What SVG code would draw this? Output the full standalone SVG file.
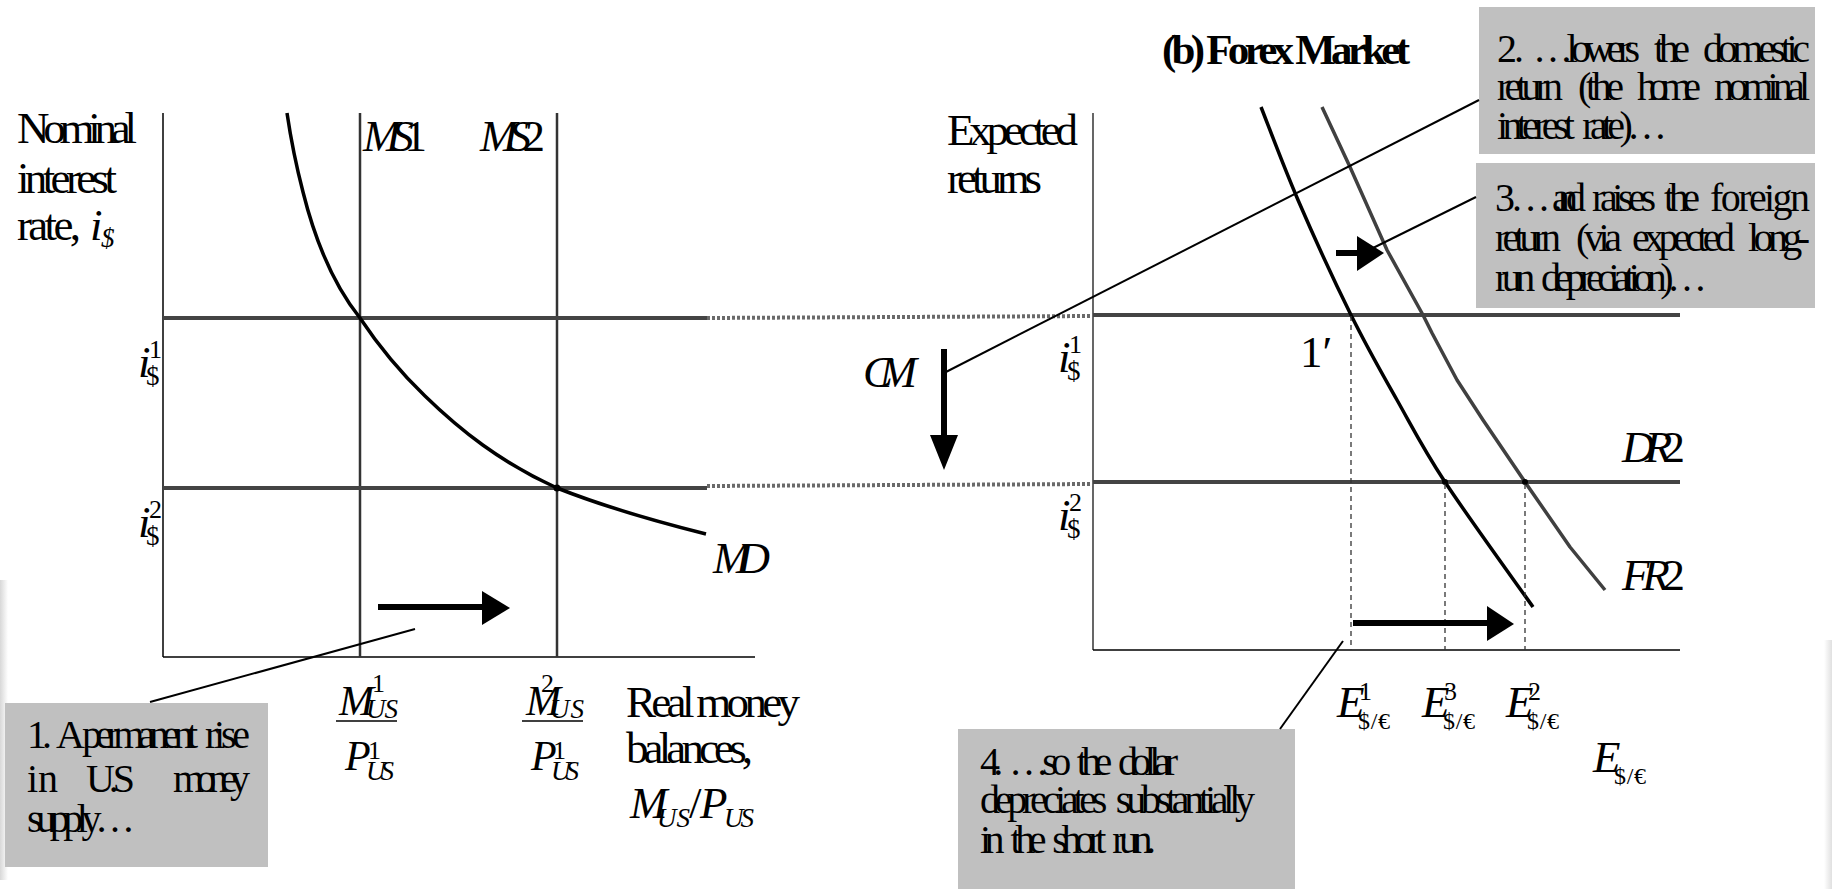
<svg xmlns="http://www.w3.org/2000/svg" width="1832" height="889" viewBox="0 0 1832 889">
<defs>
<style>
.t{font-family:"Liberation Serif","Times New Roman",serif;fill:#000}
.it{font-style:italic}
.L{font-size:45px}
.B{font-size:40px}
.ws{word-spacing:9px}
.sb{font-size:27px}
.sp{font-size:26px}
.ax{stroke:#000;stroke-width:1.5;fill:none}
.h{stroke:#444;stroke-width:4;fill:none}
.v{stroke:#333;stroke-width:2.5;fill:none}
.dot{stroke:#6a6a6a;stroke-width:4;stroke-dasharray:3 2;fill:none}
.dash{stroke:#333;stroke-width:1.3;stroke-dasharray:5 4;fill:none}
.co{stroke:#000;stroke-width:2;fill:none}
.shaft{stroke:#000;stroke-width:6;fill:none}
.head{fill:#000}
.box{fill:#c0c0c0}
</style>
<linearGradient id="edgeL" x1="0" y1="0" x2="1" y2="0"><stop offset="0" stop-color="#d8d8d8"/><stop offset="1" stop-color="#fff"/></linearGradient>
<linearGradient id="edgeR" x1="1" y1="0" x2="0" y2="0"><stop offset="0" stop-color="#e0e0e0"/><stop offset="1" stop-color="#fff"/></linearGradient>
</defs>
<rect width="1832" height="889" fill="#fff"/>
<rect x="0" y="580" width="8" height="300" fill="url(#edgeL)"/>
<rect x="1824" y="640" width="8" height="249" fill="url(#edgeR)"/>

<!-- Left panel: money market -->
<g id="money-axes">
<line class="ax" x1="163" y1="113" x2="163" y2="657"/>
<line class="ax" x1="163" y1="657" x2="755" y2="657"/>
</g>
<g id="ms-lines">
<line class="v" x1="360" y1="113" x2="360" y2="657"/>
<line class="v" x1="557" y1="113" x2="557" y2="657"/>
<text class="t it L" x="363" y="151" textLength="64" lengthAdjust="spacing">MS<tspan font-style="normal">1</tspan></text>
<text class="t it L" x="480" y="151" textLength="65" lengthAdjust="spacing">MS<tspan font-style="normal">2</tspan></text>
</g>
<g id="left-rates">
<line class="h" x1="163" y1="318" x2="707" y2="318"/>
<line class="h" x1="163" y1="488" x2="707" y2="488"/>
</g>
<g id="md-curve">
<path d="M287,113 C291,140 296,165 303,192 C315,240 332,283 360,318 C380,348 400,372 425,396 C460,430 500,462 557,488 C600,505 650,520 706,534" fill="none" stroke="#000" stroke-width="3.5"/>
<circle cx="557" cy="488" r="3.5" fill="#000"/>
<text class="t it L" x="713" y="573" textLength="57" lengthAdjust="spacing">MD</text>
</g>
<g id="left-axis-labels">
<text class="t L" x="17" y="143" textLength="120" lengthAdjust="spacing">Nominal</text>
<text class="t L" x="17" y="193" textLength="100" lengthAdjust="spacing">interest</text>
<text class="t L" x="17" y="240" textLength="64" lengthAdjust="spacing">rate,</text>
<text class="t it L" x="90" y="240">i</text>
<text class="t it sb" x="101" y="247">$</text>
<text class="t it L" x="138" y="377">i</text>
<text class="t sb" x="146" y="385">$</text>
<text class="t sp" x="149" y="358">1</text>
<text class="t it L" x="138" y="537">i</text>
<text class="t sb" x="146" y="545">$</text>
<text class="t sp" x="149" y="518">2</text>
<text class="t it" font-size="42" x="339" y="715">M</text>
<text class="t sp" x="372" y="692">1</text>
<text class="t it sb" x="366" y="718" textLength="32" lengthAdjust="spacing">US</text>
<line x1="336" y1="721" x2="397" y2="721" stroke="#000" stroke-width="1.5"/>
<text class="t it" font-size="42" x="345" y="770">P</text>
<text class="t sp" x="368" y="759">1</text>
<text class="t it sb" x="366" y="780" textLength="28" lengthAdjust="spacing">US</text>
<text class="t it" font-size="42" x="526" y="715">M</text>
<text class="t sp" x="541" y="692">2</text>
<text class="t it sb" x="550" y="718" textLength="34" lengthAdjust="spacing">US</text>
<line x1="522" y1="721" x2="583" y2="721" stroke="#000" stroke-width="1.5"/>
<text class="t it" font-size="42" x="531" y="770">P</text>
<text class="t sp" x="553" y="759">1</text>
<text class="t it sb" x="551" y="780" textLength="28" lengthAdjust="spacing">US</text>
<text class="t L" x="626" y="717" textLength="174" lengthAdjust="spacing">Real money</text>
<text class="t L" x="626" y="763" textLength="127" lengthAdjust="spacing">balances,</text>
<text class="t it L" x="630" y="818">M</text>
<text class="t it sb" x="657" y="827" textLength="33" lengthAdjust="spacing">US</text>
<text class="t L" x="689" y="818">/</text>
<text class="t it L" x="700" y="818">P</text>
<text class="t it sb" x="724" y="827" textLength="30" lengthAdjust="spacing">US</text>
</g>
<g id="box1">
<rect class="box" x="5" y="703" width="263" height="164"/>
<text class="t B" x="27" y="748" textLength="25" lengthAdjust="spacing">1.</text>
<text class="t B" x="56" y="748">A</text>
<text class="t B" x="82" y="748" textLength="116" lengthAdjust="spacing">permanent</text>
<text class="t B" x="205" y="748" textLength="45" lengthAdjust="spacing">rise</text>
<text class="t B" x="27" y="792">in</text>
<text class="t B" x="86" y="792" textLength="49" lengthAdjust="spacing">U.S</text>
<text class="t B" x="173" y="792" textLength="77" lengthAdjust="spacing">money</text>
<text class="t B" x="27" y="832" textLength="108" lengthAdjust="spacing">supply…</text>
</g>

<!-- Right panel: forex market -->
<g id="forex-title">
<text class="t" font-size="43" font-weight="bold" x="1162" y="64" textLength="248" lengthAdjust="spacing">(b) Forex Market</text>
</g>
<g id="forex-axes">
<line x1="1093" y1="113" x2="1093" y2="650" stroke="#000" stroke-width="1.2"/>
<line class="ax" x1="1093" y1="650" x2="1680" y2="650"/>
<text class="t L" x="947" y="145" textLength="131" lengthAdjust="spacing">Expected</text>
<text class="t L" x="947" y="193" textLength="95" lengthAdjust="spacing">returns</text>
<text class="t it L" x="1058" y="372">i</text>
<text class="t sb" x="1067" y="380">$</text>
<text class="t sp" x="1069" y="353">1</text>
<text class="t it L" x="1058" y="530">i</text>
<text class="t sb" x="1067" y="538">$</text>
<text class="t sp" x="1069" y="511">2</text>
</g>
<g id="dr-lines">
<line class="h" x1="1093" y1="315" x2="1680" y2="315"/>
<line class="h" x1="1093" y1="482" x2="1680" y2="482"/>
<text class="t it L" x="1622" y="462" textLength="63" lengthAdjust="spacing">DR<tspan font-style="normal">2</tspan></text>
</g>
<g id="dr-curve">
<path d="M1261,107 C1267.2,122.5 1283,165.3 1298,200 C1313,234.7 1334.5,281.7 1351,315 C1367.5,348.3 1381.3,372.2 1397,400 C1412.7,427.8 1422.3,447.5 1445,482 C1467.7,516.5 1518.3,586.2 1533,607" fill="none" stroke="#000" stroke-width="3.5"/>
<circle cx="1445" cy="482" r="3" fill="#000"/>
</g>
<g id="fr-curve">
<polyline points="1322,107 1350,167 1387,250 1423,315 1432,333 1457,380 1483,420 1525,482 1570,547 1605,590" fill="none" stroke="#404040" stroke-width="3.5" stroke-linejoin="round"/>
<circle cx="1525" cy="482" r="3" fill="#000"/>
<text class="t it L" x="1622" y="590" textLength="63" lengthAdjust="spacing">FR<tspan font-style="normal">2</tspan></text>
</g>
<g id="point-1prime">
<text class="t L" x="1300" y="367">1′</text>
</g>
<g id="e-labels">
<line class="dash" x1="1351" y1="316" x2="1351" y2="650"/>
<line class="dash" x1="1445" y1="484" x2="1445" y2="650"/>
<line class="dash" x1="1525" y1="484" x2="1525" y2="650"/>
<text class="t it L" x="1337" y="717">E</text>
<text class="t sp" x="1359" y="700">1</text>
<text class="t" font-size="24" x="1358" y="729" textLength="32" lengthAdjust="spacing">$/€</text>
<text class="t it L" x="1422" y="717">E</text>
<text class="t sp" x="1444" y="700">3</text>
<text class="t" font-size="24" x="1443" y="729" textLength="32" lengthAdjust="spacing">$/€</text>
<text class="t it L" x="1506" y="717">E</text>
<text class="t sp" x="1528" y="700">2</text>
<text class="t" font-size="24" x="1527" y="729" textLength="32" lengthAdjust="spacing">$/€</text>
<text class="t it L" x="1593" y="772">E</text>
<text class="t" font-size="24" x="1614" y="784" textLength="32" lengthAdjust="spacing">$/€</text>
</g>
<g id="cm-label">
<text class="t it L" x="863" y="387" textLength="54" lengthAdjust="spacing">CM</text>
</g>
<g id="box2">
<rect class="box" x="1479" y="7" width="336" height="147"/>
<text class="t B" x="1497" y="62" textLength="27" lengthAdjust="spacing">2.</text>
<text class="t B" x="1533" y="62" textLength="107" lengthAdjust="spacing">…lowers</text>
<text class="t B" x="1654" y="62" textLength="36" lengthAdjust="spacing">the</text>
<text class="t B" x="1703" y="62" textLength="107" lengthAdjust="spacing">domestic</text>
<text class="t B" x="1497" y="100" textLength="66" lengthAdjust="spacing">return</text>
<text class="t B" x="1578" y="100" textLength="46" lengthAdjust="spacing">(the</text>
<text class="t B" x="1637" y="100" textLength="64" lengthAdjust="spacing">home</text>
<text class="t B" x="1714" y="100" textLength="96" lengthAdjust="spacing">nominal</text>
<text class="t B ws" x="1497" y="139" textLength="170" lengthAdjust="spacing">interest rate)…</text>
</g>
<g id="box3">
<rect class="box" x="1476" y="163" width="339" height="145"/>
<text class="t B" x="1495" y="211" textLength="27" lengthAdjust="spacing">3.</text>
<text class="t B" x="1524" y="211" textLength="62" lengthAdjust="spacing">…and</text>
<text class="t B" x="1592" y="211" textLength="64" lengthAdjust="spacing">raises</text>
<text class="t B" x="1664" y="211" textLength="36" lengthAdjust="spacing">the</text>
<text class="t B" x="1710" y="211" textLength="100" lengthAdjust="spacing">foreign</text>
<text class="t B" x="1495" y="251" textLength="66" lengthAdjust="spacing">return</text>
<text class="t B" x="1576" y="251" textLength="46" lengthAdjust="spacing">(via</text>
<text class="t B" x="1632" y="251" textLength="103" lengthAdjust="spacing">expected</text>
<text class="t B" x="1748" y="251" textLength="62" lengthAdjust="spacing">long-</text>
<text class="t B ws" x="1495" y="291" textLength="212" lengthAdjust="spacing">run depreciation)…</text>
</g>
<g id="box4">
<rect class="box" x="958" y="729" width="337" height="160"/>
<text class="t B ws" x="980" y="775" textLength="198" lengthAdjust="spacing">4. …so the dollar</text>
<text class="t B ws" x="980" y="813" textLength="275" lengthAdjust="spacing">depreciates substantially</text>
<text class="t B ws" x="980" y="853" textLength="176" lengthAdjust="spacing">in the short run.</text>
</g>

<g id="connectors">
<line class="dot" x1="707" y1="318" x2="1093" y2="316"/>
<line class="dot" x1="707" y1="486" x2="1093" y2="484"/>
<line class="co" x1="415" y1="629" x2="150" y2="702"/>
<line class="co" x1="942" y1="374" x2="1479" y2="100"/>
<line class="co" x1="1373" y1="248" x2="1476" y2="197"/>
<line class="co" x1="1343" y1="641" x2="1280" y2="729"/>
<line class="shaft" x1="378" y1="607" x2="484" y2="607"/>
<polygon class="head" points="482,591 510,608 482,625"/>
<line class="shaft" x1="944" y1="349" x2="944" y2="437"/>
<polygon class="head" points="930,435 958,435 944,470"/>
<line class="shaft" x1="1336" y1="253" x2="1359" y2="253"/>
<polygon class="head" points="1357,236 1384,253 1357,271"/>
<line class="shaft" x1="1353" y1="623" x2="1489" y2="623"/>
<polygon class="head" points="1487,606 1514,624 1487,641"/>
</g>
</svg>
